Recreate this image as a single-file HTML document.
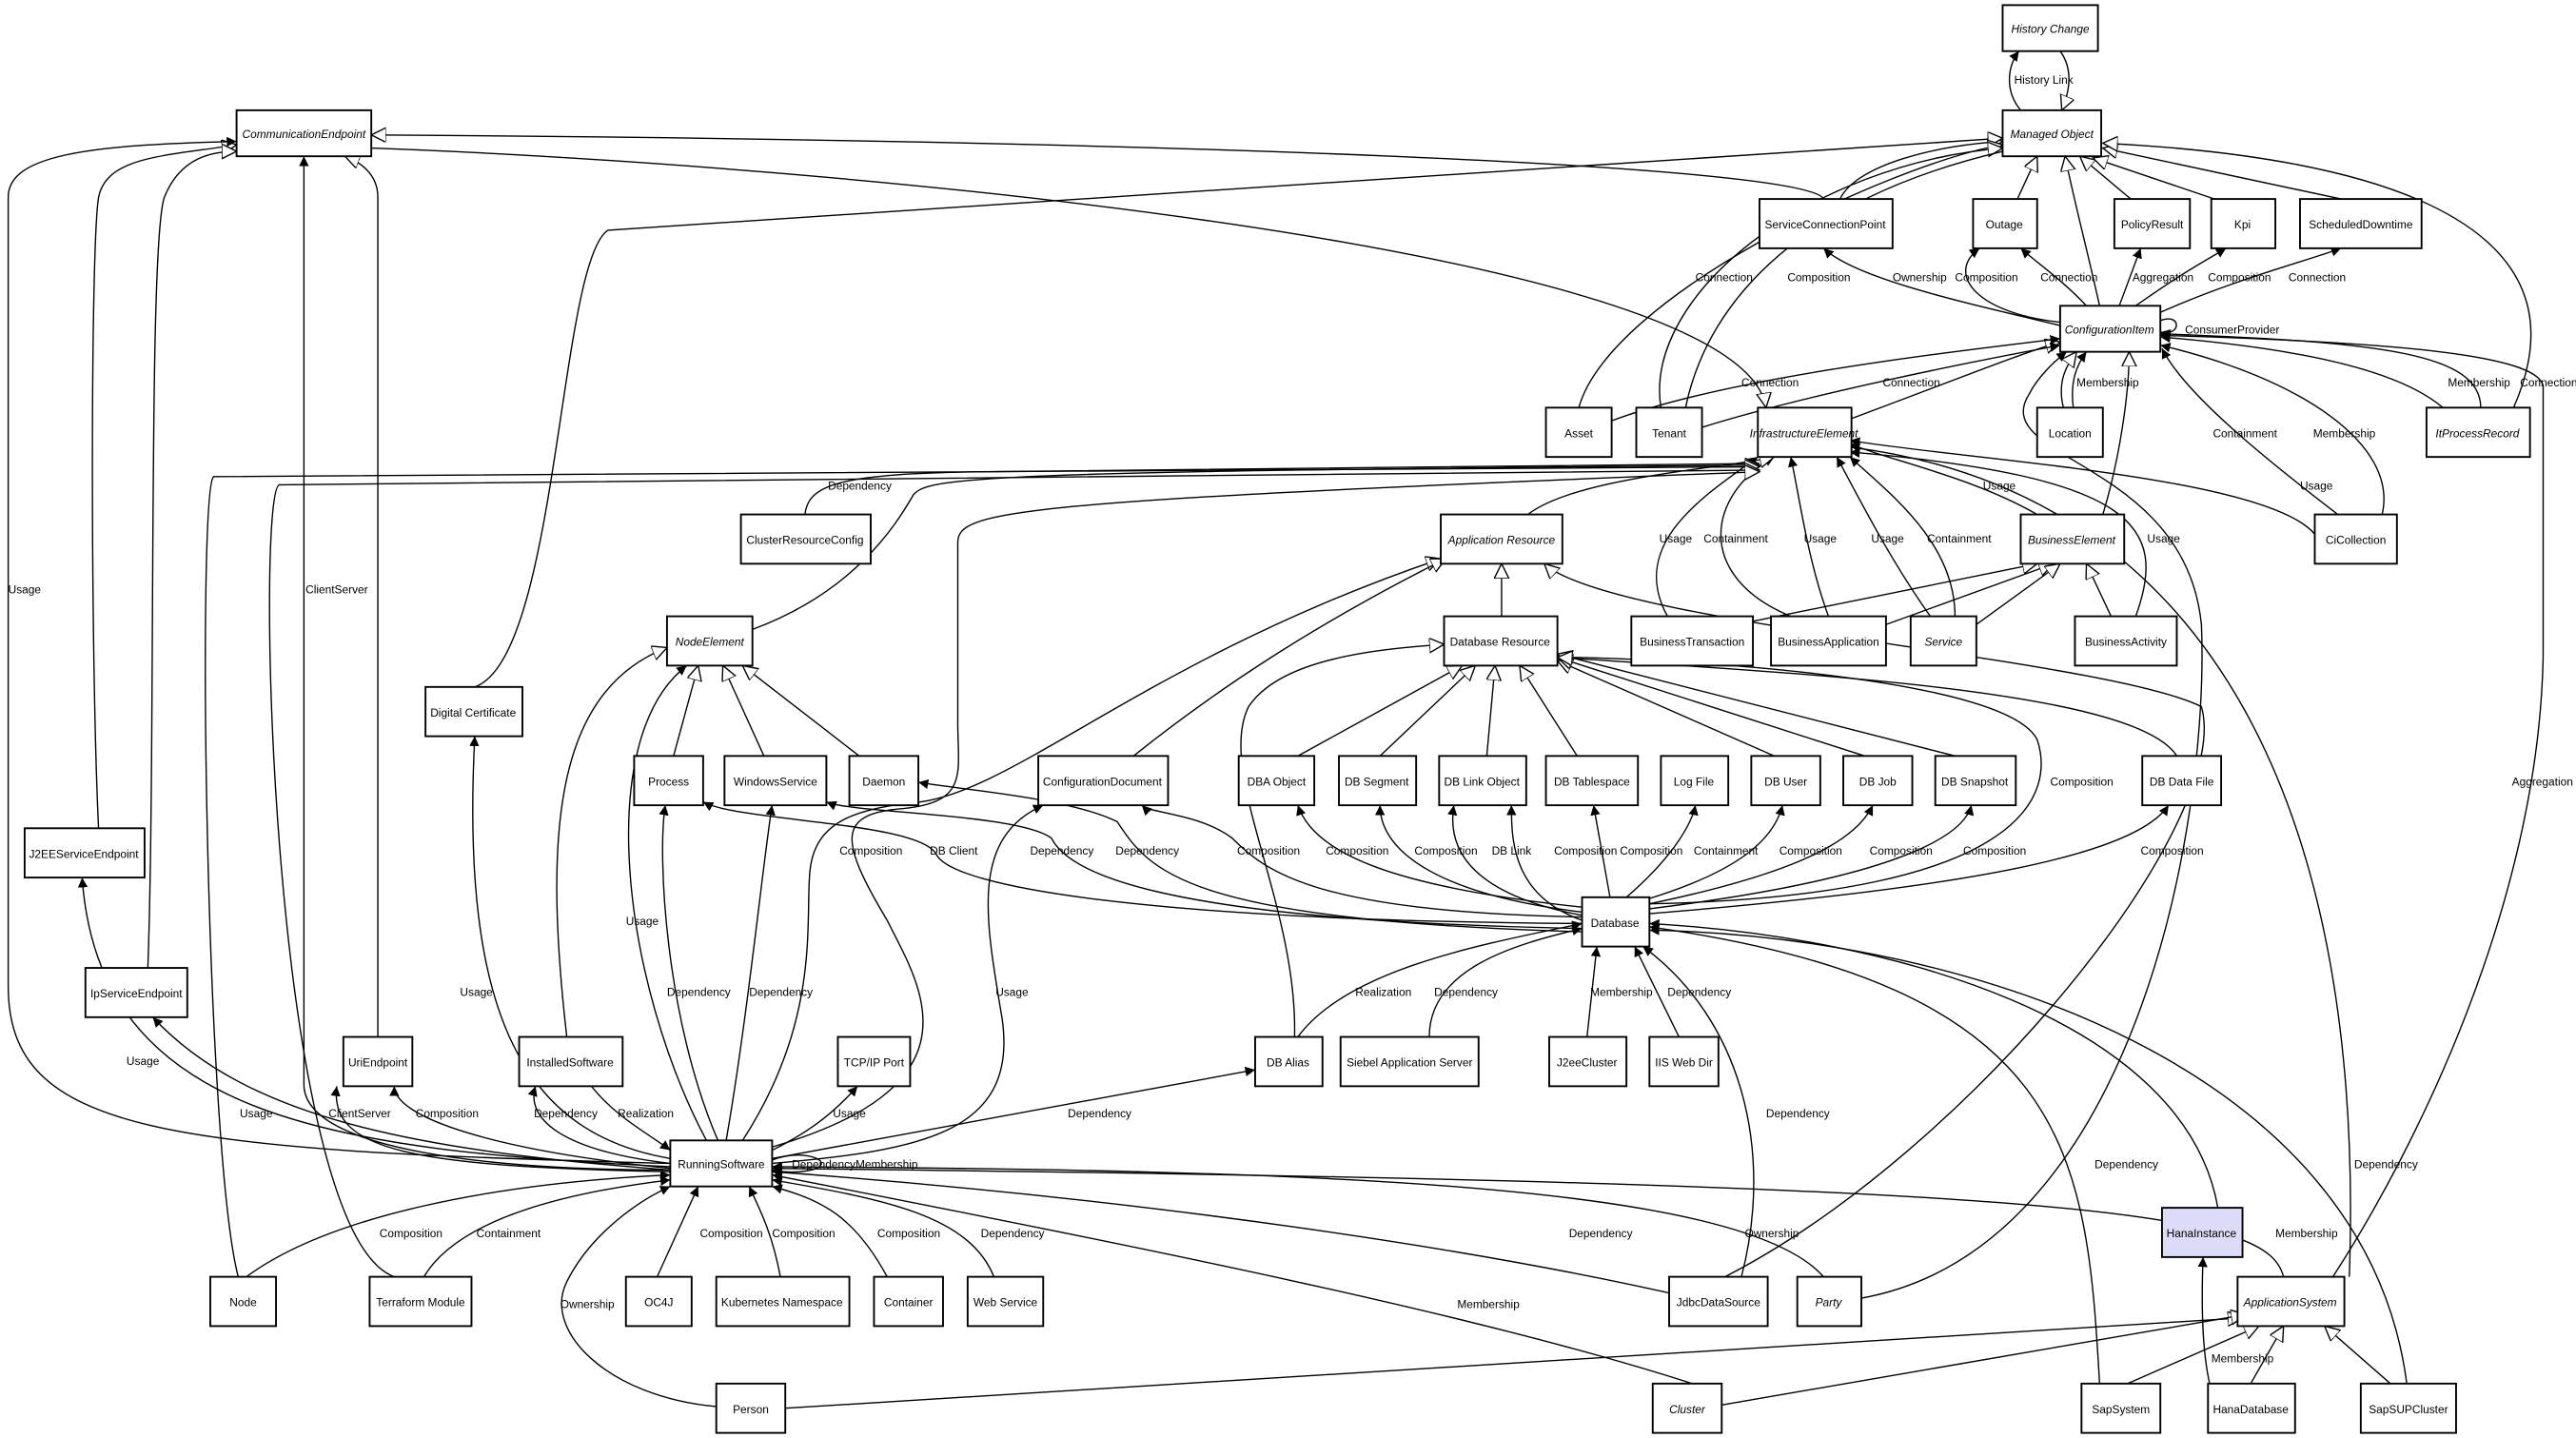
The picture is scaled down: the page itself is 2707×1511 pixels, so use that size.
<!DOCTYPE html>
<html><head><meta charset="utf-8"><style>
html,body{margin:0;padding:0;background:#fff;}
svg{display:block;}
text{font-family:"Liberation Sans",sans-serif;font-size:6.9px;fill:#000;}
.n{fill:#fff;stroke:#000;stroke-width:1.1;}
.i{font-style:italic;}
path{fill:none;stroke:#000;stroke-width:0.8;}
.f{marker-end:url(#fa);}
.h{marker-end:url(#ha);}
</style></head><body>
<svg width="2707" height="1511" viewBox="0 0 1568 875" xmlns="http://www.w3.org/2000/svg">
<defs>
<marker id="fa" markerUnits="userSpaceOnUse" markerWidth="8" markerHeight="8" refX="6" refY="3" orient="auto"><path d="M0,0 L6,3 L0,6 z" style="fill:#000;stroke:none"/></marker>
<marker id="ha" markerUnits="userSpaceOnUse" markerWidth="12" markerHeight="12" refX="9" refY="4.5" orient="auto"><path d="M0,0 L9,4.5 L0,9 z" style="fill:#fff;stroke:#000;stroke-width:0.8"/></marker>
</defs>

<g>
<!-- top -->
<path class="f" d="M1230,67 C1220,55 1222,40 1229,31"/>
<path class="h" d="M1254,31 C1262,42 1260,55 1255,67"/>
<path class="h" d="M1110,121 C1100,100 700,85 226,82"/>
<path class="h" d="M1120,121 C1130,100 1180,88 1219,86"/>
<path class="h" d="M226,90 C500,100 1060,150 1075,248"/>
<path class="h" d="M289,418 C340,400 340,160 370,140 L1219,84"/>
<path class="h" d="M961,248 C980,180 1150,100 1219,88"/>
<path class="h" d="M1011,248 C1000,180 1100,100 1219,90"/>
<path d="M1026,248 C1040,180 1100,120 1219,92"/>
<path class="h" d="M1228,121 L1240,95"/>
<path class="h" d="M1278,186 C1270,150 1262,120 1257,95"/>
<path class="h" d="M1297,121 L1266,95"/>
<path class="h" d="M1348,121 L1274,96"/>
<path class="h" d="M1425,121 L1280,90"/>
<path class="f" d="M1420,777 C1470,700 1545,550 1548,400 L1548,235 C1545,215 1450,208 1315,204"/>
<path class="h" d="M1530,248 C1560,180 1540,100 1280,87"/>
<path class="f" d="M1254,198 C1200,185 1130,170 1110,151"/>
<path class="f" d="M1254,196 C1200,190 1185,165 1205,151"/>
<path class="f" d="M1270,186 C1255,170 1240,160 1230,151"/>
<path class="f" d="M1290,186 L1303,151"/>
<path class="f" d="M1300,186 C1330,165 1340,160 1355,151"/>
<path class="f" d="M1315,190 C1360,170 1400,160 1425,151"/>
<path class="f" d="M1315,195 C1328,190 1328,205 1315,202"/>
<path class="f" d="M1487,248 C1460,225 1400,212 1315,205"/>
<path class="f" d="M1510,248 C1510,215 1450,208 1315,203"/>
<path class="f" d="M1423,313 C1380,280 1330,240 1316,212"/>
<path class="f" d="M1450,313 C1460,270 1400,230 1315,210"/>
<path class="h" d="M1256,248 C1252,232 1258,222 1264,214"/>
<path class="f" d="M1262,248 C1260,232 1264,222 1270,214"/>
<path class="h" d="M1126,255 C1180,235 1230,215 1254,208"/>
<path class="f" d="M981,256 C1050,230 1180,215 1254,206"/>
<path class="f" d="M1036,260 C1100,240 1200,220 1254,210"/>
<path class="h" d="M1280,313 C1290,280 1296,240 1296,214"/>
<path class="f" d="M1133,790 C1300,760 1345,500 1340,380 C1330,280 1210,280 1235,240 C1240,230 1250,220 1258,214"/>
<path d="M1430,777 C1440,500 1350,300 1126,272"/>
<!-- IE region -->
<path class="f" d="M1409,325 C1380,290 1200,280 1126,268"/>
<path class="f" d="M1240,313 C1200,290 1150,280 1126,270"/>
<path class="f" d="M1015,375 C990,330 1040,300 1070,278"/>
<path class="f" d="M1090,375 C1030,350 1040,300 1080,278"/>
<path class="f" d="M1113,375 C1100,340 1095,300 1090,278"/>
<path class="f" d="M1175,375 C1150,340 1130,300 1118,278"/>
<path class="f" d="M1190,375 C1190,330 1150,300 1126,278"/>
<path class="f" d="M1300,375 C1320,320 1300,290 1126,275"/>
<path class="h" d="M1067,378 L1240,343"/>
<path class="h" d="M1148,380 L1250,343"/>
<path class="h" d="M1203,380 L1254,343"/>
<path class="h" d="M1285,375 L1270,343"/>
<path class="h" d="M930,313 C960,290 1050,285 1080,278"/>
<path class="f" d="M490,313 C492,295 510,288 600,287 L1071,282"/>
<path class="h" d="M458,383 C520,360 545,320 556,301 C565,290 600,287 1071,283"/>
<path class="h" d="M145,777 C125,700 120,300 130,290 L1071,284"/>
<path class="h" d="M240,777 C165,750 155,300 170,295 L1071,286"/>
<path class="h" d="M470,698 C600,660 560,600 540,560 C510,510 510,495 550,492 C590,488 583,470 583,440 L583,330 C583,310 620,305 1071,287"/>
<path class="h" d="M452,694 C500,620 490,560 493,530 C496,500 520,492 560,488 C620,480 700,400 877,340"/>
<!-- left -->
<path class="h" d="M60,504 C55,400 55,150 60,120 C65,95 100,95 144,88"/>
<path class="h" d="M90,589 C95,450 90,150 100,120 C110,95 130,92 144,92"/>
<path class="h" d="M230,631 L230,120 C230,105 218,98 210,95"/>
<path class="f" d="M408,712 C300,712 185,700 185,660 L185,95"/>
<path class="f" d="M408,708 C100,700 5,690 5,600 L5,120 C5,95 50,88 144,86"/>
<path class="f" d="M408,710 C200,700 60,680 50,534"/>
<path class="f" d="M408,712 C250,700 150,680 93,619"/>
<path class="f" d="M408,713 C250,710 200,700 205,661"/>
<path class="f" d="M408,711 C300,700 240,680 240,661"/>
<path class="f" d="M408,705 C320,690 280,620 289,448"/>
<path class="h" d="M345,631 C330,500 340,420 406,394"/>
<path class="f" d="M408,708 C340,700 320,680 326,661"/>
<path class="f" d="M360,661 C375,680 395,690 408,700"/>
<path class="f" d="M430,694 C380,600 360,450 418,405"/>
<path class="f" d="M437,694 C405,620 400,520 405,490"/>
<path class="f" d="M442,694 C455,620 465,520 470,490"/>
<path class="h" d="M410,460 L425,405"/>
<path class="h" d="M465,460 L440,405"/>
<path class="h" d="M523,460 L452,405"/>
<path class="f" d="M470,700 C490,690 505,680 522,661"/>
<path class="f" d="M470,705 L764,651"/>
<path class="f" d="M470,708 C560,700 620,690 610,620 C600,560 590,510 635,490"/>
<path class="h" d="M690,460 C740,420 800,380 880,340"/>
<path class="f" d="M470,706 C485,700 500,704 500,708 C500,712 485,715 470,712"/>
<!-- bottom -->
<path class="f" d="M400,777 L425,722"/>
<path class="f" d="M475,777 C470,750 462,735 456,722"/>
<path class="f" d="M540,777 C520,740 500,730 470,722"/>
<path class="f" d="M605,777 C590,740 540,730 470,718"/>
<path class="f" d="M150,777 C200,740 300,720 408,715"/>
<path class="f" d="M258,777 C280,740 350,725 408,718"/>
<path class="f" d="M436,856 C370,850 330,810 345,780 C360,750 390,730 408,722"/>
<path class="h" d="M478,857 L1365,802"/>
<path class="f" d="M1030,842 C900,800 700,760 470,715"/>
<path class="h" d="M1048,855 L1367,800"/>
<path class="f" d="M1030,790 C900,760 700,730 470,713"/>
<path class="f" d="M1110,777 C1060,720 800,712 470,710"/>
<path class="f" d="M1390,777 C1380,740 1300,720 470,711"/>
<path class="f" d="M1345,842 C1340,820 1340,790 1341,765"/>
<path class="f" d="M1350,735 C1330,620 1150,570 1004,562"/>
<path class="f" d="M1278,842 C1270,700 1260,600 1004,564"/>
<path class="f" d="M1465,842 C1440,650 1200,570 1004,566"/>
<path class="h" d="M1295,842 L1375,807"/>
<path class="h" d="M1370,842 L1390,807"/>
<path class="h" d="M1455,842 L1415,807"/>
<path class="f" d="M1060,777 C1080,700 1060,620 1000,576"/>
<path class="h" d="M1050,777 C1200,700 1360,500 1340,430 C1280,400 980,380 940,343"/>
<!-- database -->
<path class="f" d="M790,631 C820,590 900,575 963,562"/>
<path class="h" d="M788,631 C790,550 740,470 760,430 C780,400 840,395 879,392"/>
<path class="f" d="M870,631 C870,590 920,575 963,565"/>
<path class="f" d="M966,631 L972,576"/>
<path class="f" d="M1022,631 L995,576"/>
<path class="f" d="M963,552 C850,540 800,520 790,490"/>
<path class="f" d="M963,555 C880,545 840,520 840,490"/>
<path class="f" d="M963,557 C900,545 880,520 885,490"/>
<path class="f" d="M963,560 C920,545 920,510 920,490"/>
<path class="f" d="M980,546 L970,490"/>
<path class="f" d="M990,546 C1020,520 1030,500 1032,490"/>
<path class="f" d="M1000,548 C1060,530 1080,510 1085,490"/>
<path class="f" d="M1004,550 C1100,530 1130,510 1140,490"/>
<path class="f" d="M1004,553 C1150,535 1195,510 1200,490"/>
<path class="f" d="M1004,556 C1200,540 1300,520 1320,490"/>
<path class="f" d="M1004,550 C1240,545 1250,480 1240,450 C1220,410 1000,400 948,400"/>
<path class="h" d="M790,460 L890,405"/>
<path class="h" d="M840,460 L898,405"/>
<path class="h" d="M905,460 L910,405"/>
<path class="h" d="M960,460 L925,405"/>
<path class="h" d="M1080,460 L948,402"/>
<path class="h" d="M1135,460 L948,400"/>
<path class="h" d="M1190,460 L948,398"/>
<path class="h" d="M1325,460 C1300,420 1100,410 948,400"/>
<path class="f" d="M963,562 C700,560 580,540 570,520 C560,500 450,500 428,488"/>
<path class="f" d="M963,565 C700,560 650,530 640,510 C620,495 520,495 503,488"/>
<path class="f" d="M963,567 C720,560 700,530 680,500 C650,485 580,480 559,476"/>
<path class="f" d="M963,558 C800,555 770,530 750,510 C730,495 700,495 695,490"/>
<path class="h" d="M914,375 L914,343"/>
</g>

<!-- labels -->
<g>
<text x="1226" y="51">History Link</text>
<text x="1088" y="171">Composition</text>
<text x="1152" y="171">Ownership</text>
<text x="1190" y="171">Composition</text>
<text x="1242" y="171">Connection</text>
<text x="1298" y="171">Aggregation</text>
<text x="1344" y="171">Composition</text>
<text x="1393" y="171">Connection</text>
<text x="1032" y="171">Connection</text>
<text x="1330" y="203">ConsumerProvider</text>
<text x="1060" y="235">Connection</text>
<text x="1146" y="235">Connection</text>
<text x="1264" y="235">Membership</text>
<text x="1490" y="235">Membership</text>
<text x="1534" y="235">Connection</text>
<text x="1347" y="266">Containment</text>
<text x="1408" y="266">Membership</text>
<text x="1207" y="298">Usage</text>
<text x="1400" y="298">Usage</text>
<text x="504" y="298">Dependency</text>
<text x="1010" y="330">Usage</text>
<text x="1037" y="330">Containment</text>
<text x="1098" y="330">Usage</text>
<text x="1139" y="330">Usage</text>
<text x="1173" y="330">Containment</text>
<text x="1307" y="330">Usage</text>
<text x="5" y="361">Usage</text>
<text x="186" y="361">ClientServer</text>
<text x="1529" y="478">Aggregation</text>
<text x="1248" y="478">Composition</text>
<text x="511" y="520">Composition</text>
<text x="566" y="520">DB Client</text>
<text x="627" y="520">Dependency</text>
<text x="679" y="520">Dependency</text>
<text x="753" y="520">Composition</text>
<text x="807" y="520">Composition</text>
<text x="861" y="520">Composition</text>
<text x="908" y="520">DB Link</text>
<text x="946" y="520">Composition</text>
<text x="986" y="520">Composition</text>
<text x="1031" y="520">Containment</text>
<text x="1083" y="520">Composition</text>
<text x="1138" y="520">Composition</text>
<text x="1195" y="520">Composition</text>
<text x="1303" y="520">Composition</text>
<text x="381" y="563">Usage</text>
<text x="280" y="606">Usage</text>
<text x="406" y="606">Dependency</text>
<text x="456" y="606">Dependency</text>
<text x="606" y="606">Usage</text>
<text x="825" y="606">Realization</text>
<text x="873" y="606">Dependency</text>
<text x="968" y="606">Membership</text>
<text x="1015" y="606">Dependency</text>
<text x="77" y="648">Usage</text>
<text x="146" y="680">Usage</text>
<text x="200" y="680">ClientServer</text>
<text x="253" y="680">Composition</text>
<text x="325" y="680">Dependency</text>
<text x="376" y="680">Realization</text>
<text x="507" y="680">Usage</text>
<text x="650" y="680">Dependency</text>
<text x="1075" y="680">Dependency</text>
<text x="482" y="711">DependencyMembership</text>
<text x="1275" y="711">Dependency</text>
<text x="1433" y="711">Dependency</text>
<text x="231" y="753">Composition</text>
<text x="290" y="753">Containment</text>
<text x="426" y="753">Composition</text>
<text x="470" y="753">Composition</text>
<text x="534" y="753">Composition</text>
<text x="597" y="753">Dependency</text>
<text x="955" y="753">Dependency</text>
<text x="1062" y="753">Ownership</text>
<text x="1385" y="753">Membership</text>
<text x="341" y="796">Ownership</text>
<text x="887" y="796">Membership</text>
<text x="1346" y="829">Membership</text>
</g>

<!-- nodes -->
<g text-anchor="middle">
<rect class="n" x="1219" y="3" width="58" height="28"/><text class="i" x="1248" y="20">History Change</text>
<rect class="n" x="1219" y="67" width="60" height="28"/><text class="i" x="1249" y="84">Managed Object</text>
<rect class="n" x="144" y="67" width="82" height="28"/><text class="i" x="185" y="84">CommunicationEndpoint</text>
<rect class="n" x="1071" y="121" width="81" height="30"/><text x="1111" y="139">ServiceConnectionPoint</text>
<rect class="n" x="1201" y="121" width="39" height="30"/><text x="1220" y="139">Outage</text>
<rect class="n" x="1287" y="121" width="46" height="30"/><text x="1310" y="139">PolicyResult</text>
<rect class="n" x="1346" y="121" width="39" height="30"/><text x="1365" y="139">Kpi</text>
<rect class="n" x="1400" y="121" width="74" height="30"/><text x="1437" y="139">ScheduledDowntime</text>
<rect class="n" x="1254" y="186" width="61" height="28"/><text class="i" x="1284" y="203">ConfigurationItem</text>
<rect class="n" x="941" y="248" width="40" height="30"/><text x="961" y="266">Asset</text>
<rect class="n" x="996" y="248" width="40" height="30"/><text x="1016" y="266">Tenant</text>
<rect class="n" x="1070" y="248" width="57" height="30"/><text class="i" x="1098" y="266">InfrastructureElement</text>
<rect class="n" x="1240" y="248" width="40" height="30"/><text x="1260" y="266">Location</text>
<rect class="n" x="1477" y="248" width="63" height="30"/><text class="i" x="1508" y="266">ItProcessRecord</text>
<rect class="n" x="451" y="313" width="79" height="30"/><text x="490" y="331">ClusterResourceConfig</text>
<rect class="n" x="877" y="313" width="74" height="30"/><text class="i" x="914" y="331">Application Resource</text>
<rect class="n" x="1230" y="313" width="63" height="30"/><text class="i" x="1261" y="331">BusinessElement</text>
<rect class="n" x="1409" y="313" width="50" height="30"/><text x="1434" y="331">CiCollection</text>
<rect class="n" x="406" y="375" width="52" height="30"/><text class="i" x="432" y="393">NodeElement</text>
<rect class="n" x="879" y="375" width="69" height="30"/><text x="913" y="393">Database Resource</text>
<rect class="n" x="993" y="375" width="74" height="30"/><text x="1030" y="393">BusinessTransaction</text>
<rect class="n" x="1078" y="375" width="70" height="30"/><text x="1113" y="393">BusinessApplication</text>
<rect class="n" x="1163" y="375" width="40" height="30"/><text class="i" x="1183" y="393">Service</text>
<rect class="n" x="1263" y="375" width="62" height="30"/><text x="1294" y="393">BusinessActivity</text>
<rect class="n" x="259" y="418" width="59" height="30"/><text x="288" y="436">Digital Certificate</text>
<rect class="n" x="386" y="460" width="42" height="30"/><text x="407" y="478">Process</text>
<rect class="n" x="441" y="460" width="62" height="30"/><text x="472" y="478">WindowsService</text>
<rect class="n" x="517" y="460" width="42" height="30"/><text x="538" y="478">Daemon</text>
<rect class="n" x="632" y="460" width="79" height="30"/><text x="671" y="478">ConfigurationDocument</text>
<rect class="n" x="754" y="460" width="46" height="30"/><text x="777" y="478">DBA Object</text>
<rect class="n" x="815" y="460" width="47" height="30"/><text x="838" y="478">DB Segment</text>
<rect class="n" x="876" y="460" width="53" height="30"/><text x="902" y="478">DB Link Object</text>
<rect class="n" x="941" y="460" width="56" height="30"/><text x="969" y="478">DB Tablespace</text>
<rect class="n" x="1011" y="460" width="41" height="30"/><text x="1031" y="478">Log File</text>
<rect class="n" x="1066" y="460" width="42" height="30"/><text x="1087" y="478">DB User</text>
<rect class="n" x="1122" y="460" width="42" height="30"/><text x="1143" y="478">DB Job</text>
<rect class="n" x="1178" y="460" width="49" height="30"/><text x="1202" y="478">DB Snapshot</text>
<rect class="n" x="1304" y="460" width="48" height="30"/><text x="1328" y="478">DB Data File</text>
<rect class="n" x="15" y="504" width="73" height="30"/><text x="51" y="522">J2EEServiceEndpoint</text>
<rect class="n" x="963" y="546" width="41" height="30"/><text x="983" y="564">Database</text>
<rect class="n" x="52" y="589" width="62" height="30"/><text x="83" y="607">IpServiceEndpoint</text>
<rect class="n" x="209" y="631" width="42" height="30"/><text x="230" y="649">UriEndpoint</text>
<rect class="n" x="316" y="631" width="63" height="30"/><text x="347" y="649">InstalledSoftware</text>
<rect class="n" x="510" y="631" width="44" height="30"/><text x="532" y="649">TCP/IP Port</text>
<rect class="n" x="764" y="631" width="41" height="30"/><text x="784" y="649">DB Alias</text>
<rect class="n" x="816" y="631" width="84" height="30"/><text x="858" y="649">Siebel Application Server</text>
<rect class="n" x="943" y="631" width="47" height="30"/><text x="966" y="649">J2eeCluster</text>
<rect class="n" x="1004" y="631" width="42" height="30"/><text x="1025" y="649">IIS Web Dir</text>
<rect class="n" x="408" y="694" width="62" height="28"/><text x="439" y="711">RunningSoftware</text>
<rect class="n" x="1316" y="735" width="49" height="30" style="fill:#dcdcf8"/><text x="1340" y="753">HanaInstance</text>
<rect class="n" x="128" y="777" width="40" height="30"/><text x="148" y="795">Node</text>
<rect class="n" x="225" y="777" width="62" height="30"/><text x="256" y="795">Terraform Module</text>
<rect class="n" x="381" y="777" width="40" height="30"/><text x="401" y="795">OC4J</text>
<rect class="n" x="436" y="777" width="81" height="30"/><text x="476" y="795">Kubernetes Namespace</text>
<rect class="n" x="532" y="777" width="42" height="30"/><text x="553" y="795">Container</text>
<rect class="n" x="589" y="777" width="46" height="30"/><text x="612" y="795">Web Service</text>
<rect class="n" x="1016" y="777" width="60" height="30"/><text x="1046" y="795">JdbcDataSource</text>
<rect class="n" x="1094" y="777" width="39" height="30"/><text class="i" x="1113" y="795">Party</text>
<rect class="n" x="1362" y="777" width="65" height="30"/><text class="i" x="1394" y="795">ApplicationSystem</text>
<rect class="n" x="436" y="842" width="42" height="30"/><text x="457" y="860">Person</text>
<rect class="n" x="1006" y="842" width="42" height="30"/><text class="i" x="1027" y="860">Cluster</text>
<rect class="n" x="1267" y="842" width="48" height="30"/><text x="1291" y="860">SapSystem</text>
<rect class="n" x="1344" y="842" width="53" height="30"/><text x="1370" y="860">HanaDatabase</text>
<rect class="n" x="1437" y="842" width="58" height="30"/><text x="1466" y="860">SapSUPCluster</text>
</g>
</svg>
</body></html>
